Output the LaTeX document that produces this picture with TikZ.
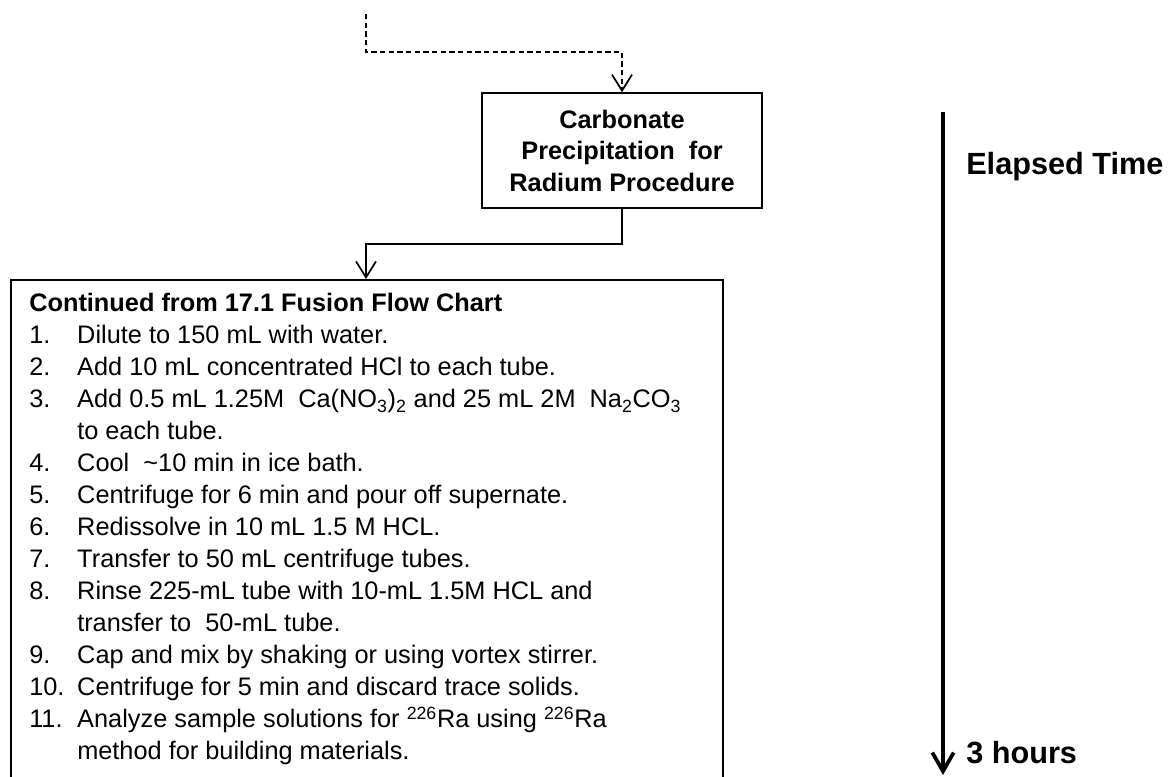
\documentclass[tikz,border=0pt]{standalone}
\usepackage{fontspec}
\setmainfont{Liberation Sans}
\usepackage{tikz}
\usetikzlibrary{arrows.meta, positioning}
\tikzset{
->, % every connector is directed
>={Straight Barb[length=12pt,width=15pt]}, % open arrow heads as in the chart
x=0.75pt, y=-0.75pt, % one unit is one pixel of the page, y runs downwards
every node/.style={inner sep=0pt}, % text sits where it is placed
procbox/.style={draw, -, line width=1.3pt, minimum width=210pt, minimum height=86pt, align=center, font=\fontsize{19pt}{23.6pt}\selectfont\bfseries}, % the procedure box
stepbox/.style={draw, -, line width=1.3pt, minimum width=534pt, minimum height=450pt}, % the big list box, runs off the page
steptext/.style={font=\fontsize{19pt}{24pt}\selectfont}, % the list of steps
timelabel/.style={font=\fontsize{23pt}{27pt}\selectfont\bfseries}, % labels of the time arrow
flow/.style={line width=1.3pt}, % solid connector
flowdash/.style={line width=1.3pt, dash pattern=on 4pt off 2.5pt}, % dashed connector
timeline/.style={line width=2.8pt, -{Straight Barb[length=14pt,width=16pt]}}, % elapsed time arrow
}

\begin{document}
\begin{tikzpicture}
        \useasboundingbox (0,0) rectangle (1175,777);
        \clip (0,0) rectangle (1175,777);

        \coordinate (src) at (366,14);
        \node[procbox] (carb) at (622,150.5) {Carbonate\\Precipitation~ for\\Radium Procedure};
        \node[stepbox, anchor=north west] (steps) at (10,279) {};
        \node[steptext, anchor=north west] (list) at ([shift={(19,10)}]steps.north west) {%
          \begin{tabular}{@{}p{36pt}@{}l@{}}
          \multicolumn{2}{@{}l@{}}{\bfseries Continued from 17.1 Fusion Flow Chart}\\
          1. & Dilute to 150 mL with water.\\
          2. & Add 10 mL concentrated HCl to each tube.\\
          3. & Add 0.5 mL 1.25M~ Ca(NO\textsubscript{3})\textsubscript{2} and 25 mL 2M~ Na\textsubscript{2}CO\textsubscript{3}\\
             & to each tube.\\
          4. & Cool~ \textasciitilde10 min in ice bath.\\
          5. & Centrifuge for 6 min and pour off supernate.\\
          6. & Redissolve in 10 mL 1.5 M HCL.\\
          7. & Transfer to 50 mL centrifuge tubes.\\
          8. & Rinse 225-mL tube with 10-mL 1.5M HCL and\\
             & transfer to~ 50-mL tube.\\
          9. & Cap and mix by shaking or using vortex stirrer.\\
          10. & Centrifuge for 5 min and discard trace solids.\\
          11. & Analyze sample solutions for \textsuperscript{226}Ra using \textsuperscript{226}Ra\\
              & method for building materials.
          \end{tabular}};
        \coordinate (t0) at (943,112);
        \coordinate (t1) at (943,775);
        \node[timelabel, anchor=base west] (elapsed) at (966,175) {Elapsed Time};
        \node[timelabel, anchor=base west] (hours) at (966,763) {3 hours};

        \draw[flowdash] (src) -- ++(0,38) -| (carb.north);
        \draw[flow] (carb.south) -- ++(0,35) -| (src |- steps.north);
        \draw[timeline] (t0) -- (t1);
\end{tikzpicture}
\end{document}
